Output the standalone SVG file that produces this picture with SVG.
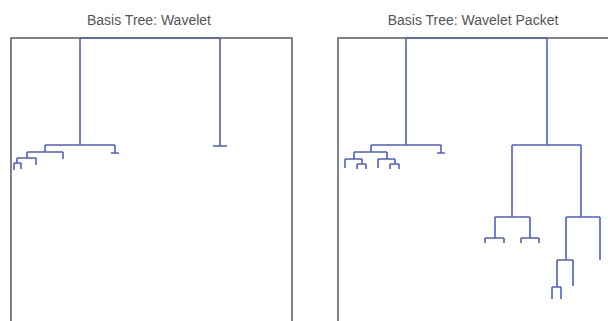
<svg xmlns="http://www.w3.org/2000/svg" width="608" height="321" viewBox="0 0 608 321">
<style>
.frame{fill:none;stroke:#5a5a5a;stroke-width:1.5}
.title{font-family:"Liberation Sans",Arial,sans-serif;font-size:14px;fill:#555;text-anchor:middle}
.tree{fill:none;stroke:#4f5fc6;stroke-width:1.6;stroke-linecap:butt}
</style>
<rect width="608" height="321" fill="#fff"/>
<g id="panel-wavelet">
  <text class="title" x="149" y="25">Basis Tree: Wavelet</text>
  <rect class="frame" x="11" y="38" width="281" height="300"/>
  <g id="tree-wavelet" class="tree">
    <path d="M80,38 H220"/>
    <path d="M80,38 V145 M45,145 H115"/>
    <path d="M220,38 V146 M213,146 H227"/>
    <path d="M115,145 V153 M111,153 H119"/>
    <path d="M45,145 V152 M27,152 H63 M63,152 V159"/>
    <path d="M27,152 V158 M17,158 H36 M36,158 V165"/>
    <path d="M17,158 V163 M14,163 H21 M14,163 V170 M21,163 V169"/>
  </g>
</g>
<g id="panel-packet">
  <text class="title" x="473" y="25">Basis Tree: Wavelet Packet</text>
  <rect class="frame" x="338" y="38" width="280" height="300"/>
  <g id="tree-packet" class="tree">
    <path d="M406,38 H547"/>
    <path d="M406,38 V145 M371,145 H441"/>
    <path d="M441,145 V153 M437,153 H445"/>
    <path d="M371,145 V152 M354,152 H387"/>
    <path d="M354,152 V159 M345,159 H362 M345,159 V168"/>
    <path d="M362,159 V164 M357,164 H366 M357,164 V169 M366,164 V169"/>
    <path d="M387,152 V159 M378,159 H395 M378,159 V168"/>
    <path d="M395,159 V164 M390,164 H399 M390,164 V169 M399,164 V169"/>
    <path d="M547,38 V145 M512,145 H581"/>
    <path d="M512,145 V217 M495,217 H530"/>
    <path d="M495,217 V238 M485,238 H504 M485,238 V243 M504,238 V243"/>
    <path d="M530,217 V238 M521,238 H539 M521,238 V243 M539,238 V243"/>
    <path d="M581,145 V217 M566,217 H600 M600,217 V260"/>
    <path d="M566,217 V260 M557,260 H573 M573,260 V286"/>
    <path d="M557,260 V287 M552,287 H561 M552,287 V299 M561,287 V299"/>
  </g>
</g>
</svg>
